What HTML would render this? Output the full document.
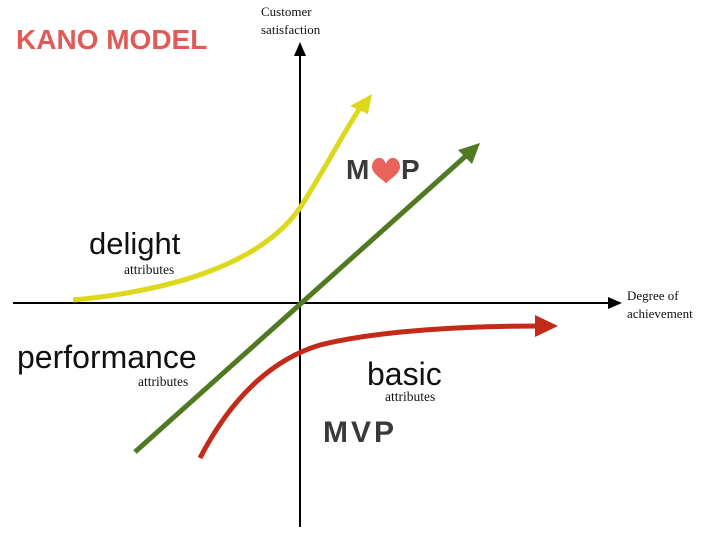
<!DOCTYPE html>
<html><head><style>
body{margin:0;width:720px;height:539px;background:#fff;overflow:hidden;position:relative}
.t{position:absolute;white-space:nowrap}
.s{font-family:"Liberation Sans",sans-serif;color:#111}
.r{font-family:"Liberation Serif",serif;color:#111}
</style></head><body>
<svg width="720" height="539" style="position:absolute;left:0;top:0">
<line x1="300" y1="52" x2="300" y2="527" stroke="#000" stroke-width="2"/>
<polygon points="300,42 294,56 306,56" fill="#000"/>
<line x1="13" y1="303" x2="612" y2="303" stroke="#000" stroke-width="2"/>
<polygon points="622,303 608,297 608,309" fill="#000"/>
<path d="M73,300 C180,290 270,260 305,200 C330,160 345,130 362,105" fill="none" stroke="#dcd81c" stroke-width="5"/>
<polygon points="372,94 350,106 368,114" fill="#dcd81c"/>
<line x1="135" y1="452" x2="468" y2="154" stroke="#4f7a22" stroke-width="5"/>
<polygon points="480,143 458,150 472,164" fill="#4f7a22"/>
<path d="M200,458 C230,400 270,360 320,345 C380,330 470,326 540,326" fill="none" stroke="#c42a18" stroke-width="5"/>
<polygon points="558,326 535,315 535,337" fill="#c42a18"/>
<path d="M400,167 C400,157 389,154 386,164 C383,154 372,157 372,167 C372,175 386,181 386,184 C386,181 400,175 400,167 Z" fill="#e8635a"/>
</svg>
<div class="t" style="left:16px;top:24px;font:bold 28px 'Liberation Sans',sans-serif;color:#e05a57">KANO MODEL</div>
<div class="r t" style="left:261px;top:3px;font-size:13px;line-height:18px">Customer<br>satisfaction</div>
<div class="r t" style="left:627px;top:287px;font-size:13px;line-height:18px">Degree of<br>achievement</div>
<div class="t" style="left:346px;top:154px;font:bold 28px 'Liberation Sans',sans-serif;color:#3a3a3a">M</div>
<div class="t" style="left:401px;top:154px;font:bold 28px 'Liberation Sans',sans-serif;color:#3a3a3a">P</div>
<div class="t" style="left:323px;top:416px;font:bold 30px 'Liberation Sans',sans-serif;color:#3a3a3a;letter-spacing:3px">MVP</div>
<div class="s t" style="left:89px;top:226px;font-size:31px">delight</div>
<div class="r t" style="left:124px;top:262px;font-size:13.5px">attributes</div>
<div class="s t" style="left:17px;top:339px;font-size:32px">performance</div>
<div class="r t" style="left:138px;top:374px;font-size:13.5px">attributes</div>
<div class="s t" style="left:367px;top:356px;font-size:32px">basic</div>
<div class="r t" style="left:385px;top:389px;font-size:13.5px">attributes</div>
</body></html>
